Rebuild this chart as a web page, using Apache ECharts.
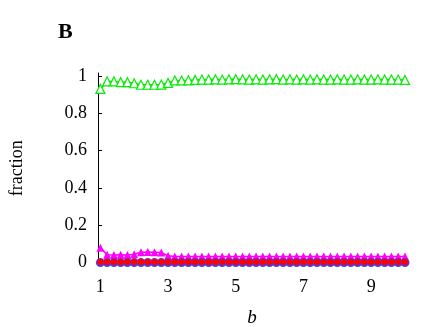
<!DOCTYPE html>
<html>
<head>
<meta charset="utf-8">
<script src="https://cdn.jsdelivr.net/npm/echarts@6/dist/echarts.min.js"></script>
<style>
  html, body { margin: 0; padding: 0; background: #fff; }
  #main { width: 436px; height: 327px; }
</style>
</head>
<body>
<div id="main"></div>
<script>
var bValues = [1.0, 1.2, 1.4, 1.6, 1.8, 2.0, 2.2, 2.4, 2.6, 2.8,
               3.0, 3.2, 3.4, 3.6, 3.8, 4.0, 4.2, 4.4, 4.6, 4.8,
               5.0, 5.2, 5.4, 5.6, 5.8, 6.0, 6.2, 6.4, 6.6, 6.8,
               7.0, 7.2, 7.4, 7.6, 7.8, 8.0, 8.2, 8.4, 8.6, 8.8,
               9.0, 9.2, 9.4, 9.6, 9.8, 10.0];
var greenVals = [0.930, 0.970, 0.970, 0.966, 0.966, 0.960, 0.952, 0.952, 0.952, 0.953,
                 0.962, 0.975, 0.975, 0.976, 0.978, 0.980, 0.980, 0.981, 0.980, 0.981,
                 0.982, 0.981, 0.980, 0.981, 0.980, 0.981, 0.982, 0.980, 0.981, 0.980,
                 0.981, 0.980, 0.981, 0.980, 0.980, 0.981, 0.980, 0.980, 0.981, 0.980,
                 0.980, 0.981, 0.980, 0.980, 0.980, 0.978];
var magentaVals = [0.080, 0.042, 0.040, 0.042, 0.040, 0.045, 0.055, 0.056, 0.055, 0.054,
                   0.036, 0.032, 0.032, 0.033, 0.032, 0.032, 0.033, 0.032, 0.032, 0.033,
                   0.032, 0.032, 0.033, 0.032, 0.032, 0.032, 0.033, 0.032, 0.032, 0.032,
                   0.033, 0.032, 0.032, 0.032, 0.033, 0.032, 0.032, 0.032, 0.033, 0.032,
                   0.032, 0.032, 0.033, 0.032, 0.032, 0.032];
var redVals = [0.003, 0.003, 0.003, 0.003, 0.003, 0.003, 0.003, 0.003, 0.003, 0.003,
               0.003, 0.003, 0.003, 0.003, 0.003, 0.003, 0.003, 0.003, 0.003, 0.003,
               0.003, 0.003, 0.003, 0.003, 0.003, 0.003, 0.003, 0.003, 0.003, 0.003,
               0.003, 0.003, 0.003, 0.003, 0.003, 0.003, 0.003, 0.003, 0.003, 0.003,
               0.003, 0.003, 0.003, 0.003, 0.003, 0.003];
var blueVals = [0, 0, 0, 0, 0, 0, 0, 0, 0, 0,
                0, 0, 0, 0, 0, 0, 0, 0, 0, 0,
                0, 0, 0, 0, 0, 0, 0, 0, 0, 0,
                0, 0, 0, 0, 0, 0, 0, 0, 0, 0,
                0, 0, 0, 0, 0, 0];
var xTicks = [1, 3, 5, 7, 9];
var yTicks = [0, 0.2, 0.4, 0.6, 0.8, 1];

function pairs(vals) {
    var out = [];
    for (var i = 0; i < bValues.length; i++) {
        out.push([bValues[i], vals[i]]);
    }
    return out;
}

var font = '"Liberation Serif", "Times New Roman", Times, serif';
var myChart = echarts.init(document.getElementById('main'));

var option = {
    animation: false,
    backgroundColor: '#fff',
    title: {
        text: 'B',
        left: 53,
        top: 16,
        textStyle: { fontFamily: font, fontWeight: 'bold', fontSize: 22, color: '#000' }
    },
    grid: {
        left: 98,
        top: 73,
        width: 308,
        height: 190.5,
        containLabel: false,
        outerBoundsMode: 'none'
    },
    xAxis: {
        type: 'value',
        min: 0.93,
        max: 10.03,
        name: 'b',
        nameLocation: 'middle',
        nameGap: 45,
        nameTextStyle: { fontFamily: font, fontStyle: 'italic', fontSize: 19, color: '#000' },
        axisLine: { show: false },
        axisTick: { show: false },
        splitLine: { show: false },
        axisLabel: {
            customValues: xTicks,
            margin: 15,
            fontFamily: font,
            fontSize: 18,
            color: '#000'
        }
    },
    yAxis: {
        type: 'value',
        min: -0.005,
        max: 1.015,
        name: 'fraction',
        nameLocation: 'middle',
        nameGap: 72,
        nameRotate: 90,
        nameTextStyle: { fontFamily: font, fontSize: 18, color: '#000' },
        axisLine: { show: true, onZero: false, lineStyle: { color: '#000', width: 1 } },
        axisTick: { show: true, inside: true, length: 4, customValues: yTicks, lineStyle: { color: '#000' } },
        splitLine: { show: false },
        axisLabel: {
            customValues: yTicks,
            margin: 11,
            fontFamily: font,
            fontSize: 18,
            color: '#000'
        }
    },
    series: [
        {
            name: 'green',
            type: 'line',
            data: pairs(greenVals),
            symbol: 'triangle',
            symbolSize: 9,
            showAllSymbol: true,
            lineStyle: { color: '#00ee00', width: 1.5 },
            itemStyle: { color: '#ffffff', borderColor: '#00ee00', borderWidth: 1.2 }
        },
        {
            name: 'magenta',
            type: 'line',
            data: pairs(magentaVals),
            symbol: 'triangle',
            symbolSize: 8,
            showAllSymbol: true,
            lineStyle: { color: '#ff00ff', width: 1.5 },
            itemStyle: { color: '#ff00ff', borderWidth: 0 }
        },
        {
            name: 'blue',
            type: 'line',
            data: pairs(blueVals),
            symbol: 'circle',
            symbolSize: 9,
            showAllSymbol: true,
            lineStyle: { color: '#0000ff', width: 1.5 },
            itemStyle: { color: '#4040ff', borderWidth: 0 }
        },
        {
            name: 'red',
            type: 'line',
            data: pairs(redVals),
            symbol: 'circle',
            symbolSize: 6.5,
            showAllSymbol: true,
            lineStyle: { color: '#400000', width: 1 },
            itemStyle: { color: '#ff0000', borderWidth: 0 }
        }
    ]
};

myChart.setOption(option);
</script>
</body>
</html>
